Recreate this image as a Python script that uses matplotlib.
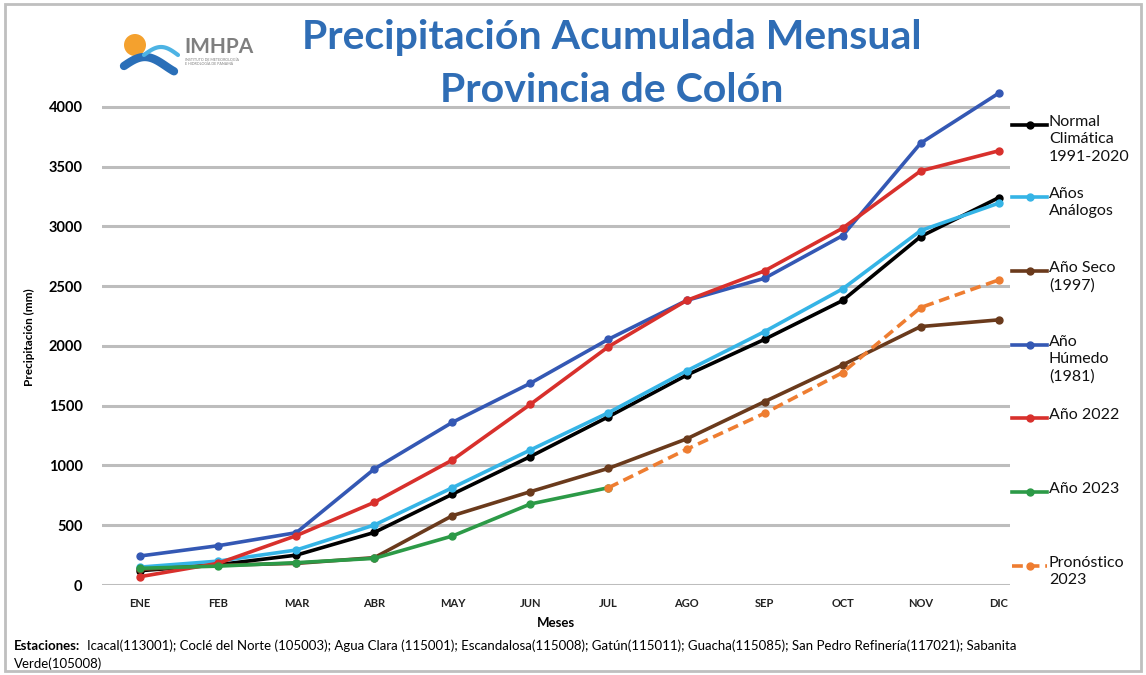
import numpy as np
import matplotlib
matplotlib.use('Agg')
import matplotlib.pyplot as plt
from matplotlib.lines import Line2D
from matplotlib.patches import Rectangle, Ellipse

plt.rcParams['font.family'] = ['Lato', 'DejaVu Sans']

# Data (mm, acumulado)
meses = ['ENE', 'FEB', 'MAR', 'ABR', 'MAY', 'JUN', 'JUL', 'AGO', 'SEP', 'OCT', 'NOV', 'DIC']
normal = [120, 170, 250, 440, 760, 1075, 1408, 1755, 2055, 2380, 2915, 3240]
analogos = [150, 200, 293, 502, 814, 1130, 1442, 1791, 2120, 2477, 2965, 3194]
seco_1997 = [130, 165, 181, 229, 580, 781, 976, 1222, 1534, 1841, 2162, 2218]
humedo_1981 = [243, 329, 438, 971, 1361, 1688, 2056, 2380, 2566, 2923, 3696, 4114]
a2022 = [70, 182, 413, 692, 1046, 1512, 1994, 2380, 2628, 2985, 3464, 3632]
a2023 = [140, 158, 187, 223, 410, 678, 814]
pron_2023 = [814, 1135, 1437, 1777, 2321, 2552]   # JUL..DIC

series = [
    ('Normal\nClimática\n1991-2020', normal, '#000000', '-'),
    ('Años\nAnálogos', analogos, '#35B4E6', '-'),
    ('Año Seco\n(1997)', seco_1997, '#6A3A1C', '-'),
    ('Año\nHúmedo\n(1981)', humedo_1981, '#3458B4', '-'),
    ('Año 2022', a2022, '#D8302C', '-'),
    ('Año 2023', a2023, '#2C9A47', '-'),
    ('Pronóstico\n2023', pron_2023, '#EE7D31', '--'),
]

fig = plt.figure(figsize=(11.46, 6.75), dpi=100)
ax = fig.add_axes([0.089, 0.1333, 0.792, 0.735])

x = np.arange(len(meses))
for name, vals, col, ls in series:
    if name.startswith('Pron'):
        xs = x[6:6 + len(vals)]
    else:
        xs = x[:len(vals)]
    ax.plot(xs, vals, ls, color=col, lw=2.6, marker='o', ms=5, clip_on=False,
            dashes=(3, 1.6) if ls == '--' else (None, None), zorder=3)

ax.set_xlim(-0.49, 11.14)
ax.set_ylim(0, 4150)
ax.set_yticks(np.arange(0, 4001, 500))
ax.set_xticks(x)
ax.set_xticklabels(meses, fontsize=8, fontweight='bold', color='#222222')
ax.tick_params(axis='y', labelsize=10.5, length=0, pad=14)
for t in ax.get_yticklabels():
    t.set_fontweight('bold')
ax.tick_params(axis='x', length=0, pad=9)
for s in ax.spines.values():
    s.set_visible(False)
ax.yaxis.grid(True, color='#BDBDBD', lw=2.2)
ax.set_axisbelow(True)
ax.set_ylabel('Precipitación (mm)', fontsize=8.5, fontweight='bold', labelpad=10)
ax.set_xlabel('Meses', fontsize=9.5, fontweight='bold', labelpad=6)

# legend on the right
leg_y = [125, 197, 271, 345, 418, 492, 566]
for (name, vals, col, ls), yp in zip(series, leg_y):
    yf = 1 - yp / 675
    ln = Line2D([1012 / 1146, 1047 / 1146], [yf, yf], transform=fig.transFigure,
                color=col, lw=2.6, ls=ls, dashes=(3, 1.6) if ls == '--' else (None, None))
    fig.add_artist(ln)
    fig.add_artist(Line2D([1029.5 / 1146], [yf], transform=fig.transFigure, color=col,
                          marker='o', ms=5, lw=0))
    fig.text(1049 / 1146, yf + 10 / 675, name, ha='left', va='top', fontsize=11.5,
             linespacing=1.3, color='#111111')

# title
fig.text(0.534, 1 - 38 / 675, 'Precipitación Acumulada Mensual', ha='center', va='center',
         fontsize=29.5, fontweight='bold', color='#2F6DB5')
fig.text(0.534, 1 - 91 / 675, 'Provincia de Colón', ha='center', va='center',
         fontsize=29.5, fontweight='bold', color='#2F6DB5')

# logo
fig.add_artist(Ellipse((135 / 1146, 1 - 45 / 675), 22 / 1146, 22 / 675,
                       transform=fig.transFigure, color='#F4A12E', ec='none'))
tt = np.linspace(0, 1, 60)
fig.add_artist(Line2D((124 + 50 * tt) / 1146, 1 - (66 - 9 * np.sin(tt * np.pi * 1.2)) / 675,
                      transform=fig.transFigure, color='#2A6FB8', lw=6, solid_capstyle='round'))
fig.add_artist(Line2D((144 + 34 * tt) / 1146, 1 - (55 - 8 * np.sin(tt * np.pi)) / 675,
                      transform=fig.transFigure, color='#4DB3E4', lw=3, solid_capstyle='round'))
fig.text(184 / 1146, 1 - 47 / 675, 'IMHPA', ha='left', va='center', fontsize=15,
         fontweight='bold', color='#7F7F7F')
fig.text(185 / 1146, 1 - 62 / 675, 'INSTITUTO DE METEOROLOGÍA\nE HIDROLOGÍA DE PANAMÁ',
         ha='left', va='center', fontsize=2.6, color='#7F7F7F', linespacing=1.2)

# footnote
fig.text(14 / 1146, 1 - 646 / 675, 'Estaciones:', ha='left', va='center', fontsize=9.5,
         fontweight='bold')
fig.text(87 / 1146, 1 - 646 / 675,
         'Icacal(113001); Coclé del Norte (105003); Agua Clara (115001); Escandalosa(115008); '
         'Gatún(115011); Guacha(115085); San Pedro Refinería(117021); Sabanita',
         ha='left', va='center', fontsize=9.5)
fig.text(14 / 1146, 1 - 664 / 675, 'Verde(105008)', ha='left', va='center', fontsize=9.5)

# frame
fig.add_artist(Rectangle((0.004, 0.006), 0.992, 0.988, transform=fig.transFigure,
                         fill=False, ec='#BFBFBF', lw=2))

fig.savefig('out.png', dpi=100)
